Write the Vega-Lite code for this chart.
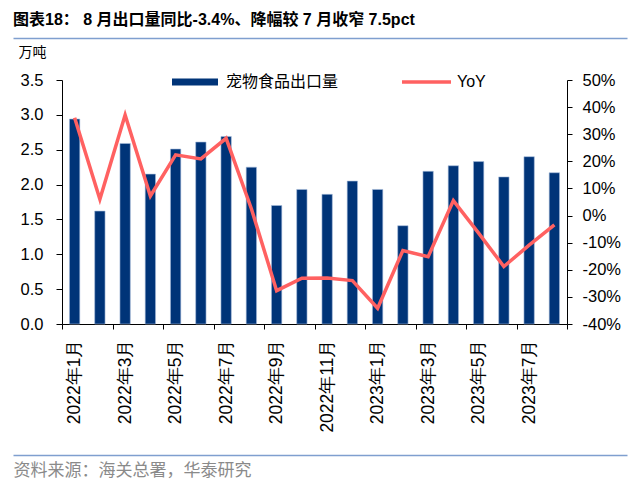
{
  "$schema": "https://vega.github.io/schema/vega-lite/v6.json",
  "autosize": "none",
  "width": 505,
  "height": 244,
  "padding": {"left": 62, "top": 80, "right": 73, "bottom": 165},
  "background": "#ffffff",
  "config": {
    "view": {"stroke": null},
    "axis": {"grid": false, "domainColor": "#000000", "tickColor": "#000000", "labelColor": "#000000", "labelFont": "Liberation Sans", "domainWidth": 1, "tickWidth": 1}
  },
  "title": {
    "text": "图表18：  8 月出口量同比-3.4%、降幅较 7 月收窄 7.5pct",
    "anchor": "start",
    "frame": "group",
    "dx": -49,
    "offset": 10,
    "font": "Liberation Sans, Noto Sans CJK SC",
    "fontSize": 16,
    "fontWeight": "bold",
    "color": "#000000"
  },
  "data": {
    "values": [
      {"month": "2022年1月", "volume": 2.94, "yoy": 36.1},
      {"month": "2022年2月", "volume": 1.62, "yoy": 6.0},
      {"month": "2022年3月", "volume": 2.59, "yoy": 37.1},
      {"month": "2022年4月", "volume": 2.15, "yoy": 7.2},
      {"month": "2022年5月", "volume": 2.51, "yoy": 22.4},
      {"month": "2022年6月", "volume": 2.61, "yoy": 20.9},
      {"month": "2022年7月", "volume": 2.69, "yoy": 28.5},
      {"month": "2022年8月", "volume": 2.25, "yoy": 2.5},
      {"month": "2022年9月", "volume": 1.70, "yoy": -27.7},
      {"month": "2022年10月", "volume": 1.93, "yoy": -23.1},
      {"month": "2022年11月", "volume": 1.86, "yoy": -23.0},
      {"month": "2022年12月", "volume": 2.05, "yoy": -24.0},
      {"month": "2023年1月", "volume": 1.93, "yoy": -34.2},
      {"month": "2023年2月", "volume": 1.41, "yoy": -12.9},
      {"month": "2023年3月", "volume": 2.19, "yoy": -15.2},
      {"month": "2023年4月", "volume": 2.27, "yoy": 5.5},
      {"month": "2023年5月", "volume": 2.33, "yoy": -6.5},
      {"month": "2023年6月", "volume": 2.11, "yoy": -18.8},
      {"month": "2023年7月", "volume": 2.40, "yoy": -10.9},
      {"month": "2023年8月", "volume": 2.17, "yoy": -3.4}
    ]
  },
  "layer": [
    {
      "layer": [
        {
          "mark": {"type": "bar", "stroke": "#A8BEDC", "strokeWidth": 0.6, "width": {"band": 0.41}},
          "encoding": {
            "x": {
              "field": "month", "type": "ordinal", "sort": null,
              "scale": {"paddingInner": 0, "paddingOuter": 0},
              "axis": {
                "title": "资料来源：海关总署，华泰研究",
                "titleX": -49, "titleY": 146, "titleAlign": "left", "titleAnchor": "start", "titleBaseline": "middle",
                "titleFont": "Noto Sans CJK SC", "titleFontSize": 17, "titleFontWeight": "normal", "titleColor": "#8A8A8A",
                "labelAngle": -90, "labelAlign": "right", "labelBaseline": "middle", "labelFontSize": 17.5, "labelPadding": 10,
                "labelOverlap": false, "tickSize": 5, "tickBand": "extent",
                "labelExpr": "test(/年(1|3|5|7|9|11)月/, datum.label) ? datum.label : ''",
                "tickOpacity": {"condition": {"test": "!isDefined(datum.value) || test(/年(2|4|6|8|10|12)月/, datum.value)", "value": 1}, "value": 0}
              }
            },
            "y": {
              "field": "volume", "type": "quantitative",
              "scale": {"domain": [0, 3.5], "nice": false},
              "axis": {
                "values": [0, 0.5, 1, 1.5, 2, 2.5, 3, 3.5], "format": ".1f",
                "title": "万吨", "titleAngle": 0, "titleX": -44, "titleY": -28, "titleAlign": "left", "titleBaseline": "middle",
                "titleFont": "Noto Sans CJK SC", "titleFontSize": 14, "titleFontWeight": "normal", "titleColor": "#000000",
                "labelFontSize": 16.5, "labelPadding": 13, "tickSize": 6
              }
            },
            "fill": {
              "datum": "宠物食品出口量", "type": "nominal",
              "scale": {"range": ["#003478"]},
              "legend": {
                "orient": "none", "legendX": 110, "legendY": -6, "title": null, "padding": 0,
                "symbolType": "M-1,-0.152H1V0.152H-1Z", "symbolSize": 2116, "symbolStrokeWidth": 0, "symbolOpacity": 1,
                "labelFont": "Noto Sans CJK SC", "labelFontSize": 16, "labelColor": "#000000", "labelOffset": 8, "clipHeight": 16
              }
            }
          }
        },
        {
          "mark": {"type": "line", "strokeWidth": 3.5},
          "encoding": {
            "x": {"field": "month", "type": "ordinal", "sort": null},
            "y": {
              "field": "yoy", "type": "quantitative",
              "scale": {"domain": [-40, 50], "nice": false},
              "axis": {
                "orient": "right", "values": [-40, -30, -20, -10, 0, 10, 20, 30, 40, 50],
                "labelExpr": "datum.value + '%'", "title": null,
                "labelFontSize": 16.5, "labelPadding": 10, "tickSize": 5
              }
            },
            "stroke": {
              "datum": "YoY", "type": "nominal",
              "scale": {"range": ["#FF6161"]},
              "legend": {
                "orient": "none", "legendX": 338, "legendY": -6, "title": null, "padding": 0,
                "symbolType": "stroke", "symbolSize": 2401, "symbolStrokeWidth": 3.5,
                "labelFont": "Liberation Sans", "labelFontSize": 16, "labelColor": "#000000", "labelOffset": 4, "clipHeight": 16
              }
            }
          }
        }
      ],
      "resolve": {"scale": {"y": "independent"}}
    },
    {
      "mark": {"type": "rule", "opacity": 0},
      "encoding": {
        "x": {
          "datum": 0.5, "type": "quantitative", "scale": {"domain": [0, 1], "range": [-49, 565]},
          "axis": {"orient": "top", "offset": 42, "domainColor": "#7F9FCF", "domainWidth": 1.5, "ticks": false, "labels": false, "title": null, "grid": false}
        }
      }
    },
    {
      "mark": {"type": "rule", "opacity": 0},
      "encoding": {
        "x": {
          "datum": 0.5, "type": "quantitative", "scale": {"domain": [0, 1], "range": [-49, 565]},
          "axis": {"orient": "bottom", "offset": 131, "domainColor": "#7F9FCF", "domainWidth": 1.5, "ticks": false, "labels": false, "title": null, "grid": false}
        }
      }
    }
  ],
  "resolve": {"scale": {"x": "independent", "y": "independent"}}
}
